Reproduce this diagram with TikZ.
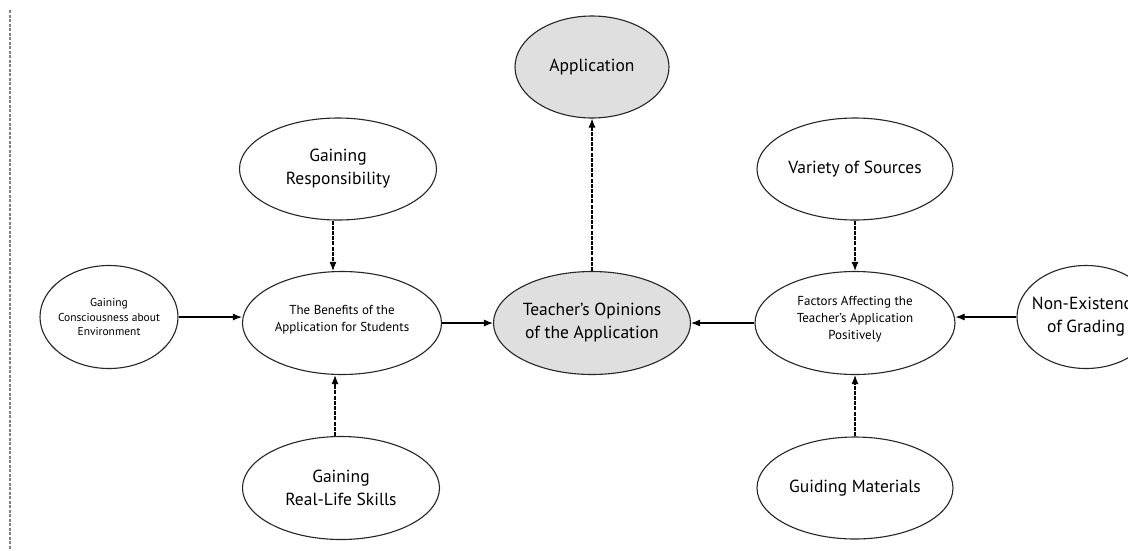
\documentclass[tikz,border=0pt]{standalone}
\usepackage{fontspec}
\setmainfont{PT Sans}
\usetikzlibrary{shapes.geometric,arrows.meta}
\begin{document}
\begin{tikzpicture}[x=1pt,y=-1pt,
  bub/.style={ellipse,draw=black!85,line width=1.1pt,inner sep=0pt,fill=white},
  hot/.style={bub,fill=gray!25},
  big/.style={font=\fontsize{17.5}{23}\selectfont,align=center,text=black,inner sep=0pt},
  small/.style={font=\fontsize{13}{17}\selectfont,align=center,text=black,inner sep=0pt},
  tiny/.style={font=\fontsize{11.5}{14.5}\selectfont,align=center,text=black,inner sep=0pt},
  harr/.style={line width=1.1pt,black,-{Latex[length=9pt,width=7pt]}},
  varr/.style={harr,dash pattern=on 4pt off 1.2pt},
  edge line/.style={gray,line width=1.8pt,dash pattern=on 3pt off 1.5pt}]
\useasboundingbox (0,0) rectangle (1128,550);
\fill[white] (0,0) rectangle (1128,550);
\clip (0,0) rectangle (1128,550);
\coordinate (lt) at (10,10);
\coordinate (lb) at (10,550);
\draw[edge line] (lt) -- (lb);
% nodes
\node[hot,minimum width=154,minimum height=102] (ap) at (592,67) {};
\node[big] (apt) at (ap) {Application};
\node[bub,minimum width=197,minimum height=102] (gr) at (338,169) {};
\node[big] (grt) at (gr) {Gaining\\Responsibility};
\node[bub,minimum width=196,minimum height=102] (va) at (855,169) {};
\node[big] (vat) at (va) {Variety of Sources};
\node[bub,minimum width=138,minimum height=103] (co) at (109,317) {};
\node[tiny] (cot) at (co) {Gaining\\Consciousness about\\Environment};
\node[bub,minimum width=199,minimum height=103] (be) at (342,323) {};
\node[small] (bet) at ([yshift=3pt]be.center) {The Benefits of the\\Application for Students};
\node[hot,minimum width=197,minimum height=103] (te) at (592,323) {};
\node[big] (tet) at (te) {Teacher's Opinions\\of the Application};
\node[bub,minimum width=138,minimum height=103] (ne) at (1086,317) {};
\node[big] (net) at (ne) {Non-Existence\\of Grading};
\node[bub,minimum width=200,minimum height=103] (fa) at (855,323) {};
\node[small] (fat) at ([yshift=4pt]fa.center) {Factors Affecting the\\Teacher's Application\\Positively};
\node[bub,minimum width=197,minimum height=103] (rl) at (341,488) {};
\node[big] (rlt) at (rl) {Gaining\\Real-Life Skills};
\node[bub,minimum width=196,minimum height=102] (gm) at (855,488) {};
\node[big] (gmt) at (gm) {Guiding Materials};
% connectors
\draw[varr] (te.north) -- (te.north |- ap.south);
\draw[varr] ([xshift=-5pt]gr.south) -- ([xshift=-5pt]gr.south |- be.north);
\draw[varr] ([xshift=-6pt]rl.north) -- ([xshift=-6pt]rl.north |- be.south);
\draw[varr] (va.south) -- (fa.north);
\draw[varr] (gm.north) -- (fa.south);
\draw[harr] (co.east) -- (co.east -| be.west);
\draw[harr] (be.east) -- (te.west);
\draw[harr] (fa.west) -- (te.east);
\draw[harr] (ne.west) -- (ne.west -| fa.east);
\end{tikzpicture}
\end{document}
